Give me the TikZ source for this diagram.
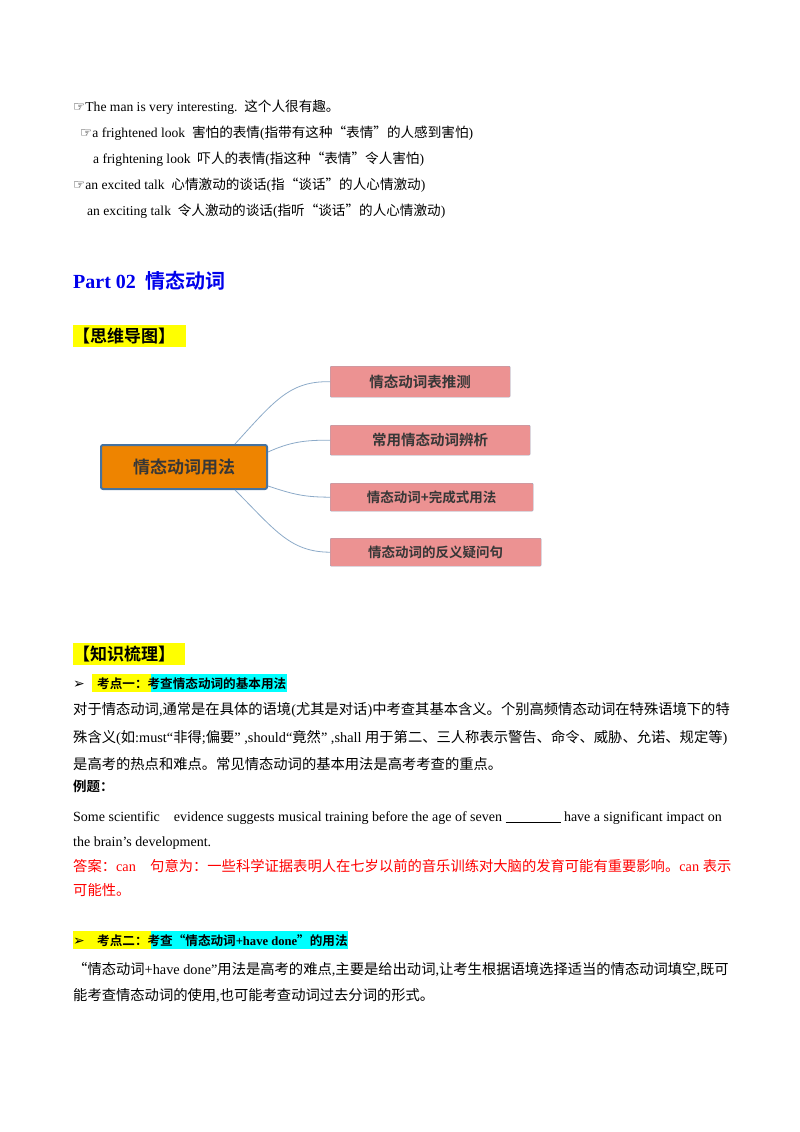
\documentclass[tikz,border=0pt]{standalone}
\usepackage{fontspec}
\setmainfont{Liberation Serif}
\newfontfamily\zh{Noto Sans CJK SC}[BoldFont={Noto Sans CJK SC Bold}]
\newfontfamily\sym{DejaVu Sans}
\newcommand{\Z}[1]{{\zh #1}}
\newcommand{\hand}{{\sym\char"261E}}
\definecolor{partblue}{RGB}{0,0,235}
\definecolor{hlyellow}{RGB}{255,255,0}
\definecolor{hlcyan}{RGB}{0,255,255}
\definecolor{mmorange}{RGB}{238,132,0}
\definecolor{mmborder}{RGB}{70,115,160}
\definecolor{mmpink}{RGB}{236,146,146}
\definecolor{mmpinkb}{RGB}{160,165,185}
\definecolor{mmline}{RGB}{140,170,200}
\definecolor{mmtext}{RGB}{55,55,55}
\definecolor{ansred}{RGB}{255,0,0}
\begin{document}
\begin{tikzpicture}[x=1pt,y=-1pt,
  line/.style={anchor=base west,inner sep=0pt,font=\fontsize{13.6}{15}\selectfont},
  body/.style={anchor=base west,inner sep=0pt,font=\fontsize{14.3}{16}\selectfont},
  eng/.style={anchor=base west,inner sep=0pt,font=\fontsize{14}{16}\selectfont},
  branch/.style={draw=mmpinkb,fill=mmpink,rounded corners=1pt,inner sep=0pt,anchor=north west,text=mmtext,font=\zh\bfseries\fontsize{14.5}{16}\selectfont},
  conn/.style={draw=mmline,line width=0.8pt}]
\useasboundingbox (0,0) rectangle (800,1132);
% top lines
\node[line] (l1) at (73,111) {\hand The man is very interesting.\ \ \Z{这个人很有趣。}};
\node[line] (l2) at (80,137) {\hand a frightened look\ \ \Z{害怕的表情}(\Z{指带有这种“表情”的人感到害怕})};
\node[line] (l3) at (93,163) {a frightening look\ \ \Z{吓人的表情}(\Z{指这种“表情”令人害怕})};
\node[line] (l4) at (73,189) {\hand an excited talk\ \ \Z{心情激动的谈话}(\Z{指“谈话”的人心情激动})};
\node[line] (l5) at (87,215) {an exciting talk\ \ \Z{令人激动的谈话}(\Z{指听“谈话”的人心情激动})};
% part title
\node[anchor=base west,inner sep=0pt,text=partblue,font=\bfseries\fontsize{20}{22}\selectfont] (pt) at (73,288) {Part 02\ \ \Z{情态动词}};
% mind map heading
\fill[hlyellow] (73,325) rectangle (186,347);
\node[anchor=base west,inner sep=0pt,font=\zh\bfseries\fontsize{17}{18}\selectfont] (mh) at (73,342) {【思维导图】};
% mind map
\node[draw=mmborder,line width=2pt,fill=mmorange,rounded corners=2pt,minimum width=166pt,minimum height=44pt,anchor=north west,text=mmtext,font=\zh\bfseries\fontsize{17}{18}\selectfont] (c) at (100,444) {情态动词用法};
\node[branch,minimum width=180pt,minimum height=31pt] (b1) at (330,366) {情态动词表推测};
\node[branch,minimum width=200pt,minimum height=30pt] (b2) at (330,425) {常用情态动词辨析};
\node[branch,minimum width=203pt,minimum height=28pt,font=\zh\bfseries\fontsize{13.5}{15}\selectfont] (b3) at (330,483) {情态动词+完成式用法};
\node[branch,minimum width=211pt,minimum height=28pt,font=\zh\bfseries\fontsize{13.5}{15}\selectfont] (b4) at (330,538) {情态动词的反义疑问句};
\draw[conn] ([xshift=135pt]c.north west) .. controls (275,400) and (290,381) .. (b1.west);
\draw[conn] ([yshift=-8pt]c.north east) .. controls (290,442) and (305,440) .. (b2.west);
\draw[conn] ([yshift=-42pt]c.north east) .. controls (295,495) and (305,497) .. (b3.west);
\draw[conn] ([xshift=135pt]c.south west) .. controls (275,530) and (290,552) .. (b4.west);
% knowledge heading
\fill[hlyellow] (73,643) rectangle (185,665);
\node[anchor=base west,inner sep=0pt,font=\zh\bfseries\fontsize{17}{18}\selectfont] (kh) at (73,660) {【知识梳理】};
% point one
\fill[hlyellow] (92,674) rectangle (151,692);
\fill[hlcyan] (151,674) rectangle (287,692);
\node[anchor=base west,inner sep=0pt,font=\sym\bfseries\fontsize{14}{15}\selectfont] (a1) at (73,688) {➢};
\node[anchor=base west,inner sep=0pt,font=\zh\bfseries\fontsize{12.6}{15}\selectfont] (p1) at (97,688) {考点一：考查情态动词的基本用法};
\node[body] (b1l1) at (73,714) {\Z{对于情态动词},\Z{通常是在具体的语境}(\Z{尤其是对话})\Z{中考查其基本含义。个别高频情态动词在特殊语境下的特}};
\node[body] (b1l2) at (73,742) {\Z{殊含义}(\Z{如}:must“\Z{非得};\Z{偏要}” ,should“\Z{竟然}” ,shall \Z{用于第二、三人称表示警告、命令、威胁、允诺、规定等})};
\node[body] (b1l3) at (73,769) {\Z{是高考的热点和难点。常见情态动词的基本用法是高考考查的重点。}};
\node[body,font=\zh\bfseries\fontsize{13.5}{15}\selectfont] (ex) at (73,791) {例题：};
\node[eng] (e1) at (73,821) {Some scientific\ \ \ \ evidence suggests musical training before the age of seven \underline{\hspace{55pt}} have a significant impact on};
\node[eng] (e2) at (73,846) {the brain's development.};
\node[body,text=ansred] (an1) at (73,871) {\Z{答案：}can\ \ \ \ \Z{句意为：一些科学证据表明人在七岁以前的音乐训练对大脑的发育可能有重要影响。}can \Z{表示}};
\node[body,text=ansred] (an2) at (73,895) {\Z{可能性。}};
% point two
\fill[hlyellow] (73,931) rectangle (151,949);
\fill[hlcyan] (151,931) rectangle (348,949);
\node[anchor=base west,inner sep=0pt,font=\sym\bfseries\fontsize{14}{15}\selectfont] (a2) at (73,945) {➢};
\node[anchor=base west,inner sep=0pt,font=\zh\bfseries\fontsize{12.6}{15}\selectfont] (p2) at (97,945) {考点二：考查“情态动词{\rmfamily\bfseries +have done}”的用法};
\node[body] (b2l1) at (73,974) {\Z{“情态动词}+have done”\Z{用法是高考的难点},\Z{主要是给出动词},\Z{让考生根据语境选择适当的情态动词填空},\Z{既可}};
\node[body] (b2l2) at (73,1000) {\Z{能考查情态动词的使用},\Z{也可能考查动词过去分词的形式。}};
\end{tikzpicture}
\end{document}
